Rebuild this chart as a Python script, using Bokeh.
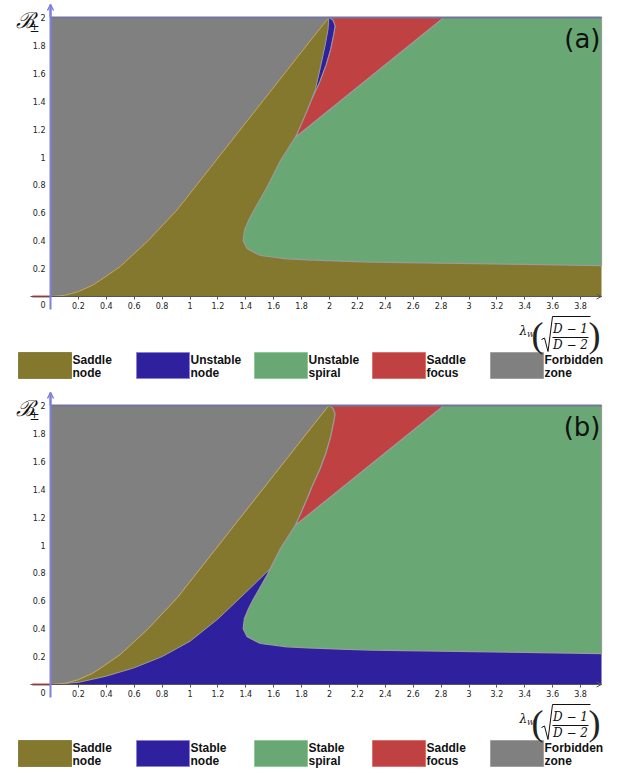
import numpy as np
from itertools import takewhile
from bokeh.plotting import figure
from bokeh.layouts import column
from bokeh.models import (Range1d, FixedTicker, Label, Arrow, OpenHead,
                          CustomJSTickFormatter)
from bokeh.embed import file_html
from bokeh.resources import INLINE
from bokeh.core.properties import value

# ---------------- data ----------------
lam_max = 3.95          # right end of the computed domain
b_max = 2.0             # top of the computed domain
lam_axis_min = -0.143
b_axis_min = -0.093

# boundary of the forbidden zone (gray / olive)
forbidden_x = [0.0, 0.1, 0.2, 0.3, 0.358, 0.5, 0.7, 0.907, 1.1, 1.3, 1.5, 1.7, 1.9, 1.995]
forbidden_y = [0.0, 0.008, 0.035, 0.08, 0.117, 0.215, 0.40, 0.62, 0.865, 1.119, 1.373, 1.627, 1.881, 2.0]

# right edge of the saddle-node region, from the triple point to the top
node_edge_x = [1.756, 1.80, 1.84, 1.875, 1.90, 1.935, 1.971, 1.99, 1.995]
node_edge_y = [1.142, 1.24, 1.333, 1.42, 1.49, 1.644, 1.811, 1.92, 2.0]

# left edge of the saddle-focus region, from the branch point to the top
focus_edge_x = [1.875, 1.93, 1.975, 2.007, 2.03, 2.04, 2.025, 1.995]
focus_edge_y = [1.42, 1.54, 1.66, 1.77, 1.88, 1.94, 1.98, 2.0]

# edge of the spiral region, from the right bottom, round the tip, up to the triple point
spiral_edge_x = [3.95, 3.4, 2.8, 2.3, 2.079, 1.85, 1.696, 1.505, 1.41, 1.381, 1.39, 1.42, 1.457, 1.553, 1.649, 1.756]
spiral_edge_y = [0.222, 0.23, 0.239, 0.247, 0.253, 0.262, 0.270, 0.294, 0.342, 0.40, 0.473, 0.545, 0.616, 0.784, 0.975, 1.142]

# straight border between spiral and saddle focus
focus_line_x = [1.756, 2.82]
focus_line_y = [1.142, 2.0]

# (b) upper edge of the stable-node region
stable_edge_x = [0.0, 0.2, 0.4, 0.6, 0.8, 1.0, 1.2, 1.4, 1.575]
stable_edge_y = [0.0, 0.015, 0.06, 0.12, 0.2, 0.31, 0.47, 0.66, 0.83]

# short red branch on the negative axis
neg_branch_x = [-0.13, 0.0]
neg_branch_y = [0.0, 0.0]

x_ticks = [0.2, 0.4, 0.6, 0.8, 1.0, 1.2, 1.4, 1.6, 1.8, 2.0, 2.2, 2.4, 2.6, 2.8, 3.0, 3.2, 3.4, 3.6, 3.8]
x_tick_labels = ["0.2", "0.4", "0.6", "0.8", "1", "1.2", "1.4", "1.6", "1.8", "2",
                 "2.2", "2.4", "2.6", "2.8", "3", "3.2", "3.4", "3.6", "3.8"]
y_ticks = [0.2, 0.4, 0.6, 0.8, 1.0, 1.2, 1.4, 1.6, 1.8, 2.0]
y_tick_labels = ["0.2", "0.4", "0.6", "0.8", "1", "1.2", "1.4", "1.6", "1.8", "2"]

legend_a = ["Saddle node", "Unstable node", "Unstable spiral", "Saddle focus", "Forbidden zone"]
legend_b = ["Saddle node", "Stable node", "Stable spiral", "Saddle focus", "Forbidden zone"]

# ---------------- style ----------------
OLIVE = "#84782f"
BLUE = "#2f219e"
GREEN = "#69a874"
RED = "#c04141"
GRAY = "#808080"
EDGE = "#9a9a9a"
legend_colors = [OLIVE, BLUE, GREEN, RED, GRAY]
legend_edges = ["#8a8040", "#8a80e0", "#8cc898", "#e07070", "#a0a0a0"]

SCALE = 139.5     # pixels per unit
X0 = 50           # page x of lambda = 0
PAGE_W = 629
BASE_FIX = 0.3    # alphabetic baseline correction (fraction of font size)

# ---------------- polygons ----------------
nb = node_edge_x.index(focus_edge_x[0])
gray_x = forbidden_x + [0.0]
gray_y = forbidden_y + [b_max]
green_x = spiral_edge_x + [focus_line_x[1], lam_max]
green_y = spiral_edge_y + [focus_line_y[1], b_max]
red_x = focus_line_x + focus_edge_x[::-1] + node_edge_x[1:nb][::-1]
red_y = focus_line_y + focus_edge_y[::-1] + node_edge_y[1:nb][::-1]
sliver_x = node_edge_x[nb:] + focus_edge_x[::-1][1:-1]
sliver_y = node_edge_y[nb:] + focus_edge_y[::-1][1:-1]
sp_rev = list(zip(spiral_edge_x[::-1], spiral_edge_y[::-1]))[1:]
sp_keep = list(takewhile(lambda q: q[1] > stable_edge_y[-1], sp_rev))
oliveb_x = forbidden_x + focus_edge_x[::-1][1:] + node_edge_x[:nb][::-1] + [q[0] for q in sp_keep] + stable_edge_x[::-1]
oliveb_y = forbidden_y + focus_edge_y[::-1][1:] + node_edge_y[:nb][::-1] + [q[1] for q in sp_keep] + stable_edge_y[::-1]

tick_code = """
const i = tv.findIndex(t => Math.abs(t - tick) < 1e-9);
return i >= 0 ? tl[i] : "";
"""


def build(panel):
    shift = 0 if panel == "a" else 388
    top_px = 0 if panel == "a" else 387
    bot_px = 387 if panel == "a" else 773
    y0 = 296 + shift

    def X(px):
        return (px - X0) / SCALE

    def Y(py):  # py given in panel-(a) page coordinates
        return (y0 - (py + shift)) / SCALE

    y_top = (y0 - top_px) / SCALE
    p = figure(width=PAGE_W, height=bot_px - top_px,
               x_range=Range1d((0 - X0) / SCALE, (PAGE_W - X0) / SCALE),
               y_range=Range1d((y0 - bot_px) / SCALE, y_top),
               output_backend="svg", toolbar_location=None, min_border=0)
    p.xgrid.visible = False
    p.ygrid.visible = False
    p.outline_line_color = None
    p.background_fill_color = "white"
    p.border_fill_color = "white"

    # regions
    if panel == "a":
        p.quad(left=[0.0], right=[lam_max], bottom=[0.0], top=[b_max], fill_color=OLIVE, line_color=None)
    else:
        p.quad(left=[0.0], right=[lam_max], bottom=[0.0], top=[b_max], fill_color=BLUE, line_color=None)
        p.patch(oliveb_x, oliveb_y, fill_color=OLIVE, line_color=EDGE, line_width=1)
    p.patch(gray_x, gray_y, fill_color=GRAY, line_color="#c4a65a", line_width=1)
    p.patch(green_x, green_y, fill_color=GREEN, line_color=EDGE, line_width=1.2)
    p.patch(red_x, red_y, fill_color=RED, line_color=EDGE, line_width=1.2)
    if panel == "a":
        p.patch(sliver_x, sliver_y, fill_color=BLUE, line_color=EDGE, line_width=1)
    p.line([0.0, lam_max], [b_max, b_max], line_color="#74749e", line_width=2)
    p.line(neg_branch_x, neg_branch_y, line_color="#d04040", line_width=2)

    # axes crossing at the origin
    xa = p.xaxis[0]
    ya = p.yaxis[0]
    xa.fixed_location = 0
    ya.fixed_location = 0
    xa.bounds = (lam_axis_min, lam_max)
    ya.bounds = (b_axis_min, Y(4))
    xa.ticker = FixedTicker(ticks=x_ticks)
    ya.ticker = FixedTicker(ticks=y_ticks)
    xa.formatter = CustomJSTickFormatter(args=dict(tv=x_ticks, tl=x_tick_labels), code=tick_code)
    ya.formatter = CustomJSTickFormatter(args=dict(tv=y_ticks, tl=y_tick_labels), code=tick_code)
    xa.axis_line_color = "#555555"
    xa.axis_line_width = 1
    xa.major_tick_line_color = "#555555"
    xa.major_tick_out = 3
    xa.major_tick_in = 0
    xa.minor_tick_line_color = None
    xa.major_label_standoff = 2
    ya.axis_line_color = "#7f7fdc"
    ya.axis_line_width = 2
    ya.major_tick_line_color = None
    ya.major_tick_out = 0
    ya.major_tick_in = 0
    ya.minor_tick_line_color = None
    ya.major_label_standoff = 5
    for ax in (xa, ya):
        ax.major_label_text_font = "DejaVu Sans"
        ax.major_label_text_font_size = "8px"
        ax.major_label_text_color = "#222222"
        ax.axis_label = None

    p.add_layout(Arrow(end=OpenHead(size=5, line_color="#555555", line_width=1),
                       x_start=lam_max - 0.1, y_start=0, x_end=lam_max, y_end=0,
                       line_color="#555555", line_width=1))
    p.add_layout(Arrow(end=OpenHead(size=6, line_color="#7f7fdc", line_width=1.5),
                       x_start=0, y_start=b_max, x_end=0, y_end=Y(4),
                       line_color="#7f7fdc", line_width=2))

    def lab(text, px, py, size, font="DejaVu Sans", style="normal", align="left",
            color="#111111"):
        p.add_layout(Label(x=X(px), y=Y(py - BASE_FIX * size), text=text, text_font=font,
                           text_font_size=f"{size}px", text_font_style=style,
                           text_align=align, text_baseline="alphabetic", text_color=color))

    p.add_layout(Label(x=X(42.5), y=Y(304), text="0", text_font="DejaVu Sans",
                       text_font_size="8px", text_align="center", text_baseline="middle",
                       text_color="#222222"))
    lab("(a)" if panel == "a" else "(b)", 600, 46, 26, align="right")
    # y-axis title
    lab("\u212C", 15, 27, 22, font="DejaVu Serif", style="italic")
    lab("\u00B1", 34, 31, 12, font="DejaVu Serif", align="center")
    # x-axis title  lambda_W ( sqrt((D-1)/(D-2)) )
    lab("\u03BB", 519, 334, 12, font="DejaVu Serif", style="italic")
    lab("W", 526.5, 337, 7, font="DejaVu Serif", style="italic")
    lab("(", 537, 345, 36, font="Liberation Serif", align="center", color="#222222")
    lab(")", 594, 345, 36, font="Liberation Serif", align="center", color="#222222")
    lab("D \u2212 1", 570, 332, 12, font="DejaVu Serif", style="italic", align="center")
    lab("D \u2212 2", 570, 348, 12, font="DejaVu Serif", style="italic", align="center")
    rad_px = [541, 544, 547.5, 552, 590]
    rad_py = [339, 337.5, 351, 316, 316]
    p.line([X(v) for v in rad_px], [Y(v) for v in rad_py], line_color="#111111", line_width=1)
    p.segment(x0=[X(552)], y0=[Y(337)], x1=[X(588)], y1=[Y(337)], line_color="#111111", line_width=1)

    # legend row
    names = legend_a if panel == "a" else legend_b
    first = [n.split(" ")[0] for n in names]
    second = [n.split(" ")[1] for n in names]
    left = [X(18 + 118 * i) for i in range(len(names))]
    right = [X(71 + 118 * i) for i in range(len(names))]
    p.quad(left=left, right=right, top=Y(352), bottom=Y(378), fill_color=legend_colors,
           line_color=legend_edges, line_width=1)
    tx = [X(72 + 118 * i) for i in range(len(names))]
    for words, base in ((first, 363), (second, 376)):
        p.text(x=tx, y=[Y(base - BASE_FIX * 12)] * len(names), text=words,
               text_font=value("Liberation Sans"),
               text_font_style="bold", text_font_size="12px", text_color="#111111",
               text_align="left", text_baseline="alphabetic")
    return p


page = column(build("a"), build("b"), spacing=0)
open("out.html", "w").write(file_html(page, INLINE))
